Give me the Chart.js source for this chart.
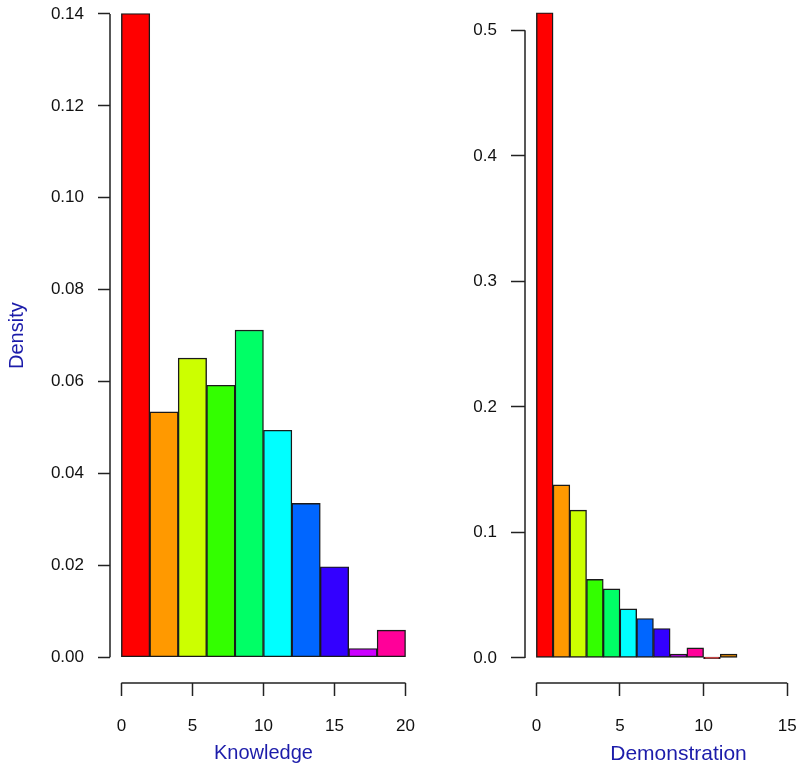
<!DOCTYPE html>
<html><head><meta charset="utf-8">
<script src="https://cdn.jsdelivr.net/npm/chart.js@4.4.1/dist/chart.umd.min.js"></script>
<style>
html,body{margin:0;padding:0;background:#fff;width:800px;height:771px;overflow:hidden;position:relative}
canvas{position:absolute}
#c1{left:0;top:-36px;width:435px;height:807px}
#c2{left:420px;top:-19px;width:412px;height:790px}
</style></head><body>
<canvas id="c1" width="435" height="807"></canvas>
<canvas id="c2" width="412" height="790"></canvas>
<script>
// R rainbow(10) palette, recycled over bins
const rainbowColors = ['#FF0000','#FF9900','#CCFF00','#33FF00','#00FF66','#00FFFF','#0066FF','#3300FF','#CC00FF','#FF0099'];

// Knowledge histogram (bin edges and densities)
const knowledgeBreaks = [0,2,4,6,8,10,12,14,16,18,20];
const knowledgeDensity = [0.1401,0.0534,0.0651,0.0592,0.0712,0.0494,0.0335,0.0197,0.0019,0.0059];
const knowledgeXTicks = [0,5,10,15,20];
const knowledgeYTicks = [0,0.02,0.04,0.06,0.08,0.10,0.12,0.14];

// Demonstration histogram
const demoBreaks = [0,1,2,3,4,5,6,7,8,9,10,11,12];
const demoDensity = [0.514,0.1378,0.1177,0.0625,0.055,0.039,0.0314,0.0234,0.003,0.008,0,0.003];
const demoXTicks = [0,5,10,15];
const demoYTicks = [0,0.1,0.2,0.3,0.4,0.5];

const FONT = "'Liberation Sans', Arial, sans-serif";
const TITLE_COLOR = '#1c1caa';
const AXIS_COLOR = '#222';

const rAxisLines = {
  id: 'rAxisLines',
  afterDraw(chart, args, opts) {
    const {ctx, chartArea, scales} = chart;
    const x = scales.x, y = scales.y;
    const xt = opts.xTicks, yt = opts.yTicks;
    ctx.save();
    ctx.strokeStyle = AXIS_COLOR;
    ctx.lineWidth = 1.5;
    ctx.beginPath();
    ctx.moveTo(chartArea.left, y.getPixelForValue(yt[0]));
    ctx.lineTo(chartArea.left, y.getPixelForValue(yt[yt.length - 1]));
    ctx.moveTo(x.getPixelForValue(xt[0]), chartArea.bottom);
    ctx.lineTo(x.getPixelForValue(xt[xt.length - 1]), chartArea.bottom);
    ctx.stroke();
    ctx.restore();
  }
};

function makeHist(id, breaks, density, xTicks, yTicks, cfg) {
  const data = density.map((d, i) => ({x: (breaks[i] + breaks[i + 1]) / 2, y: d}));
  const colors = density.map((d, i) => rainbowColors[i % rainbowColors.length]);
  return new Chart(document.getElementById(id), {
    type: 'bar',
    data: {
      datasets: [{
        data: data,
        backgroundColor: colors,
        borderColor: '#1a1a1a',
        borderWidth: 1.4,
        borderSkipped: false,
        barPercentage: 1,
        categoryPercentage: 1,
        minBarLength: 1.5
      }]
    },
    options: {
      responsive: false,
      animation: false,
      devicePixelRatio: 1,
      layout: {padding: cfg.padding},
      plugins: {
        legend: {display: false},
        tooltip: {enabled: false},
        rAxisLines: {xTicks: xTicks, yTicks: yTicks}
      },
      scales: {
        x: {
          type: 'linear',
          offset: false,
          min: cfg.xMin, max: cfg.xMax,
          border: {display: false},
          grid: {display: true, offset: false, drawOnChartArea: false, drawTicks: true, tickLength: 13, tickWidth: 1.5, tickColor: AXIS_COLOR},
          afterBuildTicks: s => { s.ticks = xTicks.map(v => ({value: v})); },
          afterFit: s => { s.height = 88; },
          ticks: {
            autoSkip: false, maxRotation: 0, minRotation: 0,
            padding: 20, color: '#111',
            font: {family: FONT, size: 17},
            callback: v => String(v)
          },
          title: {
            display: true, text: cfg.xTitle, color: TITLE_COLOR,
            font: {family: FONT, size: cfg.titleSize},
            padding: {top: 0, bottom: cfg.xTitlePad}
          }
        },
        y: {
          type: 'linear',
          min: cfg.yMin, max: cfg.yMax,
          border: {display: false},
          grid: {display: true, offset: false, drawOnChartArea: false, drawTicks: true, tickLength: cfg.yTickLen, tickWidth: 1.5, tickColor: AXIS_COLOR},
          afterBuildTicks: s => { s.ticks = yTicks.map(v => ({value: v})); },
          afterFit: s => { s.width = cfg.yWidth; },
          ticks: {
            padding: cfg.yTickPad, color: '#111',
            font: {family: FONT, size: 17},
            callback: v => v.toFixed(cfg.decimals)
          },
          title: {
            display: !!cfg.yTitle, text: cfg.yTitle || '', color: TITLE_COLOR,
            font: {family: FONT, size: cfg.titleSize},
            padding: {top: 5, bottom: 0}
          }
        }
      }
    },
    plugins: [rAxisLines]
  });
}

makeHist('c1', knowledgeBreaks, knowledgeDensity, knowledgeXTicks, knowledgeYTicks, {
  padding: {top: 0, right: 0, left: 0, bottom: 0},
  xMin: -0.8, xMax: 20.8, yMin: -0.0056, yMax: 0.1456,
  yWidth: 110, yTickLen: 12, yTickPad: 14, decimals: 2,
  xTitle: 'Knowledge', yTitle: 'Density', titleSize: 20, xTitlePad: 6
});

makeHist('c2', demoBreaks, demoDensity, demoXTicks, demoYTicks, {
  padding: {top: 0, right: 0, left: 0, bottom: 0},
  xMin: -0.68, xMax: 17.68, yMin: -0.02, yMax: 0.52,
  yWidth: 105, yTickLen: 14, yTickPad: 14, decimals: 1,
  xTitle: 'Demonstration', yTitle: '', titleSize: 21, xTitlePad: 4
});
</script>
</body></html>
